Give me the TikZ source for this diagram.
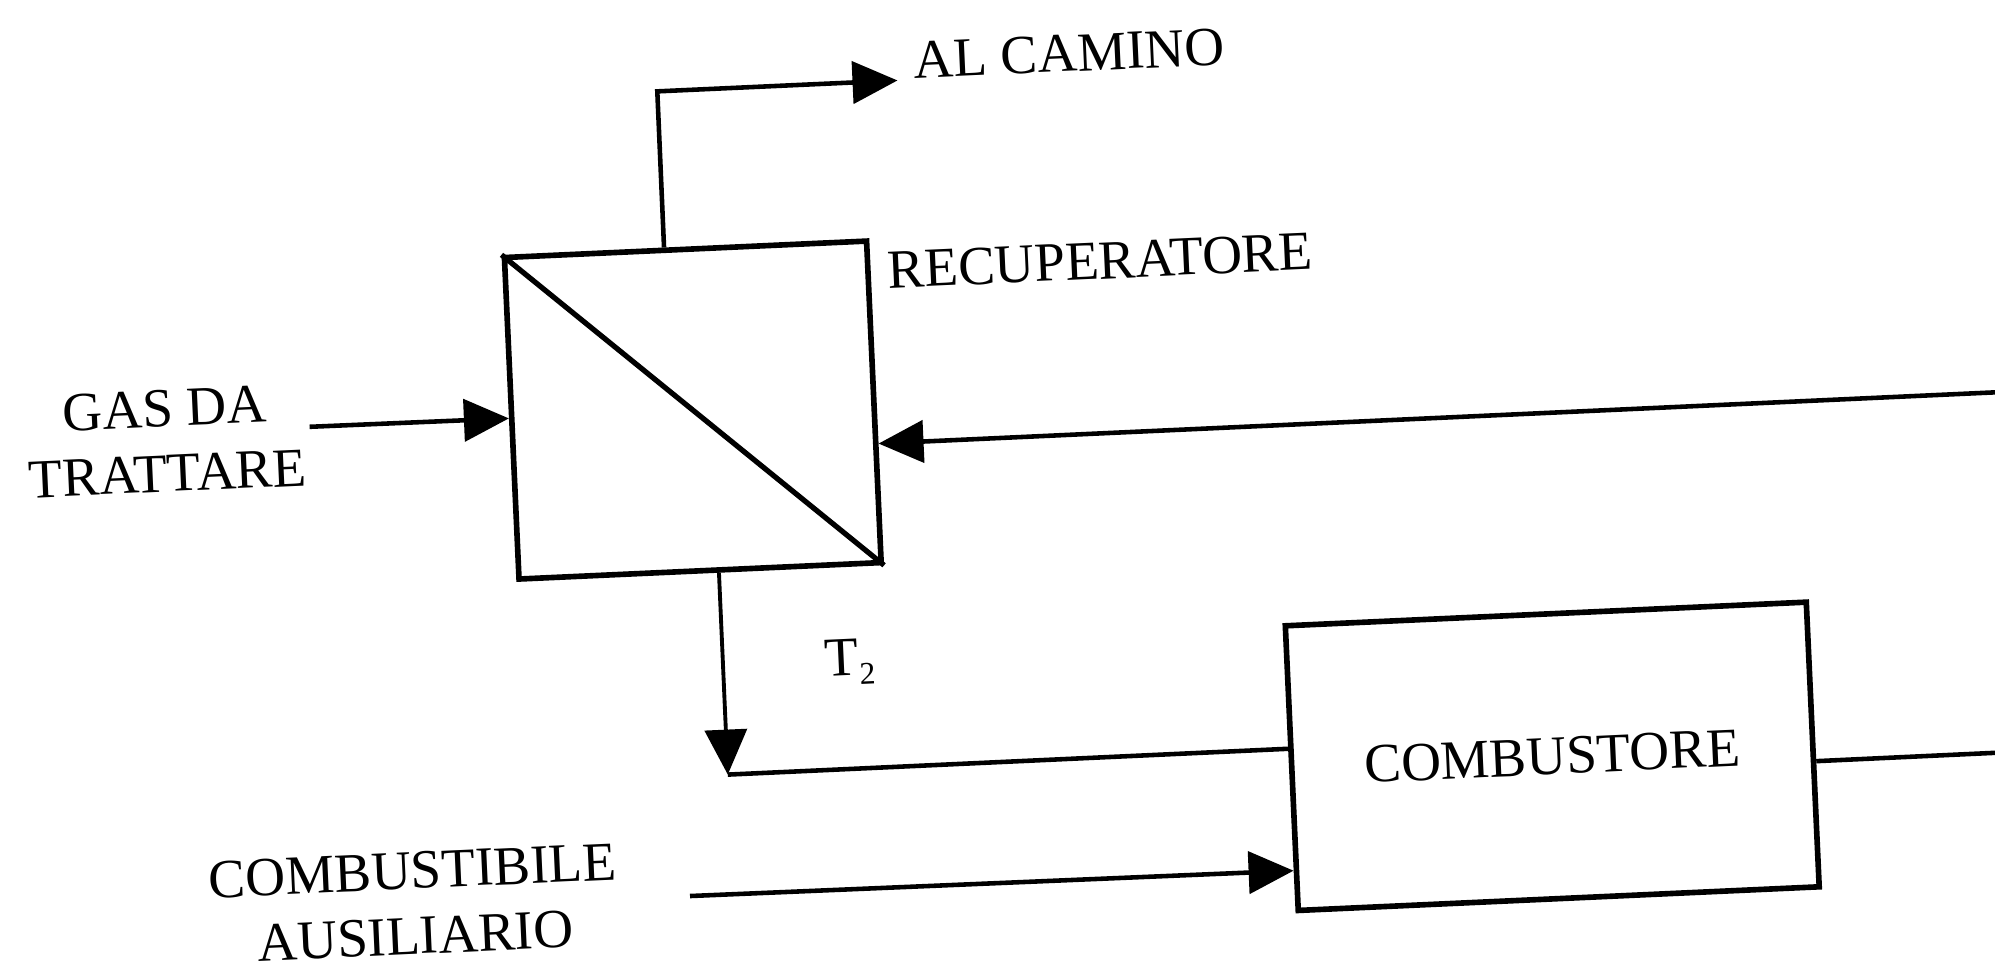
\documentclass[tikz,border=0pt]{standalone}
\usepackage{fontspec}
\setmainfont{Liberation Serif}
\usetikzlibrary{arrows.meta,calc}
\begin{document}
\begin{tikzpicture}[x=0.012723cm,y=-0.012723cm,
  lbl/.style={inner sep=0pt,font=\fontsize{15.7}{18.6}\selectfont,align=center},
  recbox/.style={draw,line width=1.6pt,inner sep=0pt,minimum width=3.626cm,minimum height=3.219cm},
  combox/.style={draw,line width=1.6pt,inner sep=0pt,minimum width=5.216cm,minimum height=2.85cm,font=\fontsize{15.7}{18}\selectfont},
  flow/.style={line width=1.3pt,-{Triangle[length=0.45cm,width=0.42cm]}},
  plain/.style={line width=1.3pt}]
\path[use as bounding box,fill=white] (0,0) rectangle (1568,766);
\clip (0,0) rectangle (1568,766);
\begin{scope}[rotate around={2.6:(784,383)},transform shape]
\node[recbox] (rec) at (547.5,311.5) {};
\draw[line width=1.5pt] (rec.north west) -- (rec.south east);
\node[combox] (comb) at (1210,614) {COMBUSTORE};
\node[lbl,anchor=west] (lrec) at (705,209) {RECUPERATORE};
\node[lbl,anchor=west] (lcam) at (733,45) {AL CAMINO};
\node[lbl] (lgas) at (133,317) {GAS DA\\TRATTARE};
\node[lbl] (lfuel) at (311,689) {COMBUSTIBILE\\AUSILIARIO};
\node[lbl] (lt2) at (662,515) {T\raisebox{-0.35ex}{\fontsize{9}{9}\selectfont 2}};
\coordinate (gin) at (246,311);
\coordinate (rin) at (1620,344);
\coordinate (bend) at (531,60);
\coordinate (cam) at (720,60);
\coordinate (j) at (562,599);
\coordinate (fin) at (528,693);
\coordinate (cout) at (1620,627);
\draw[flow] (gin) -- (rec.west);
\draw[flow] (rin) -- ($(rec.north east)!0.628!(rec.south east)$);
\draw[flow] ($(rec.north west)!0.442!(rec.north east)$) -- (bend) -- (cam);
\draw[flow,line width=1.1pt] ($(rec.south west)!0.551!(rec.south east)$) -- (j);
\draw[plain] (j) -- ($(comb.north west)!0.433!(comb.south west)$);
\draw[flow] (fin) -- ($(comb.north west)!0.853!(comb.south west)$);
\draw[plain] ($(comb.north east)!0.558!(comb.south east)$) -- (cout);
\end{scope}
\end{tikzpicture}
\end{document}
